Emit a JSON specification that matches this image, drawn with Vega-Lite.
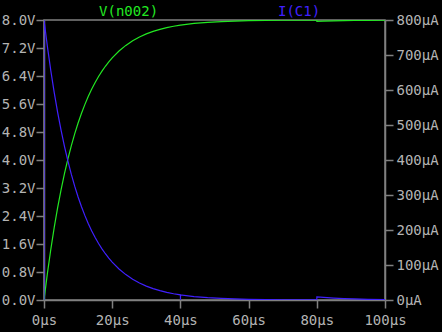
{
  "$schema": "https://vega.github.io/schema/vega-lite/v6.json",
  "width": 341,
  "height": 280,
  "autosize": "none",
  "padding": {"left": 44, "top": 20, "right": 57, "bottom": 32},
  "background": "#000000",
  "config": {
    "view": {"stroke": "#808080", "strokeWidth": 1.5},
    "axis": {
      "grid": false,
      "domainColor": "#808080",
      "domainWidth": 1.5,
      "tickColor": "#808080",
      "tickWidth": 1.5,
      "tickSize": 8,
      "labelColor": "#b4b4b4",
      "labelFont": "DejaVu Sans Mono",
      "labelFontSize": 14,
      "labelOverlap": false,
      "labelFlush": false,
      "title": null
    }
  },
  "datasets": {
    "trace": [
      {"t": 0, "v": 0, "i": 0},
      {"t": 0.001, "v": 0.001, "i": 800},
      {"t": 1, "v": 0.761, "i": 723.9},
      {"t": 2, "v": 1.450, "i": 655.0},
      {"t": 3, "v": 2.073, "i": 592.7},
      {"t": 4, "v": 2.637, "i": 536.3},
      {"t": 5, "v": 3.148, "i": 485.2},
      {"t": 6, "v": 3.610, "i": 439.1},
      {"t": 7, "v": 4.027, "i": 397.3},
      {"t": 8, "v": 4.405, "i": 359.5},
      {"t": 9, "v": 4.747, "i": 325.3},
      {"t": 10, "v": 5.057, "i": 294.3},
      {"t": 11, "v": 5.337, "i": 266.3},
      {"t": 12, "v": 5.590, "i": 241.0},
      {"t": 13, "v": 5.820, "i": 218.0},
      {"t": 14, "v": 6.027, "i": 197.3},
      {"t": 15, "v": 6.215, "i": 178.5},
      {"t": 16, "v": 6.385, "i": 161.5},
      {"t": 17, "v": 6.539, "i": 146.1},
      {"t": 18, "v": 6.678, "i": 132.2},
      {"t": 19, "v": 6.803, "i": 119.7},
      {"t": 20, "v": 6.917, "i": 108.3},
      {"t": 22, "v": 7.114, "i": 88.6},
      {"t": 24, "v": 7.274, "i": 72.6},
      {"t": 26, "v": 7.406, "i": 59.4},
      {"t": 28, "v": 7.514, "i": 48.6},
      {"t": 30, "v": 7.602, "i": 39.8},
      {"t": 32, "v": 7.674, "i": 32.6},
      {"t": 34, "v": 7.733, "i": 26.7},
      {"t": 36, "v": 7.781, "i": 21.9},
      {"t": 38, "v": 7.821, "i": 17.9},
      {"t": 40, "v": 7.853, "i": 14.65},
      {"t": 40.02, "v": 7.853, "i": 0},
      {"t": 40.04, "v": 7.853, "i": 14.6},
      {"t": 44, "v": 7.902, "i": 9.82},
      {"t": 48, "v": 7.934, "i": 6.58},
      {"t": 52, "v": 7.956, "i": 4.41},
      {"t": 56, "v": 7.970, "i": 2.96},
      {"t": 60, "v": 7.980, "i": 1.98},
      {"t": 65, "v": 7.988, "i": 1.20},
      {"t": 70, "v": 7.993, "i": 0.73},
      {"t": 75, "v": 7.996, "i": 0.44},
      {"t": 80, "v": 7.997, "i": 0.27},
      {"t": 80.02, "v": 7.960, "i": 9.0},
      {"t": 82, "v": 7.967, "i": 7.37},
      {"t": 85, "v": 7.976, "i": 5.46},
      {"t": 88, "v": 7.982, "i": 4.04},
      {"t": 91, "v": 7.987, "i": 3.0},
      {"t": 95, "v": 7.991, "i": 2.0},
      {"t": 100, "v": 7.995, "i": 1.2}
    ]
  },
  "layer": [
    {
      "layer": [
        {
          "data": {"name": "trace"},
          "mark": {"type": "line", "color": "#22e822", "strokeWidth": 1.2, "clip": true},
          "encoding": {
            "x": {"field": "t", "type": "quantitative", "scale": {"domain": [0, 100], "nice": false},
              "axis": {"values": [0, 20, 40, 60, 80, 100], "tickCount": 20, "labelExpr": "datum.value + 'µs'", "labelPadding": 5, "labelOverlap": false}},
            "y": {"field": "v", "type": "quantitative", "scale": {"domain": [0, 8], "nice": false},
              "axis": {"orient": "left", "values": [0, 0.8, 1.6, 2.4, 3.2, 4.0, 4.8, 5.6, 6.4, 7.2, 8.0], "tickCount": 20, "labelExpr": "format(datum.value, '.1f') + 'V'", "labelPadding": 1, "labelOverlap": false, "labelBound": false}}
          }
        },
        {
          "data": {"values": [{"label": "V(n002)", "t": 24.8}]},
          "mark": {"type": "text", "color": "#22e822", "font": "DejaVu Sans Mono", "fontSize": 14, "baseline": "middle", "dy": -8},
          "encoding": {
            "x": {"field": "t", "type": "quantitative"},
            "y": {"datum": 8},
            "text": {"field": "label"}
          }
        }
      ]
    },
    {
      "layer": [
        {
          "data": {"name": "trace"},
          "mark": {"type": "line", "color": "#4020ff", "strokeWidth": 1.2, "clip": true},
          "encoding": {
            "x": {"field": "t", "type": "quantitative"},
            "y": {"field": "i", "type": "quantitative", "scale": {"domain": [0, 800], "nice": false},
              "axis": {"orient": "right", "values": [0, 100, 200, 300, 400, 500, 600, 700, 800], "tickCount": 20, "labelExpr": "datum.value + 'µA'", "labelPadding": 3, "labelOverlap": false, "labelBound": false}}
          }
        },
        {
          "data": {"values": [{"label": "I(C1)", "t": 74.8}]},
          "mark": {"type": "text", "color": "#4020ff", "font": "DejaVu Sans Mono", "fontSize": 14, "baseline": "middle", "dy": -8},
          "encoding": {
            "x": {"field": "t", "type": "quantitative"},
            "y": {"datum": 800},
            "text": {"field": "label"}
          }
        }
      ]
    }
  ],
  "resolve": {"scale": {"y": "independent"}}
}
